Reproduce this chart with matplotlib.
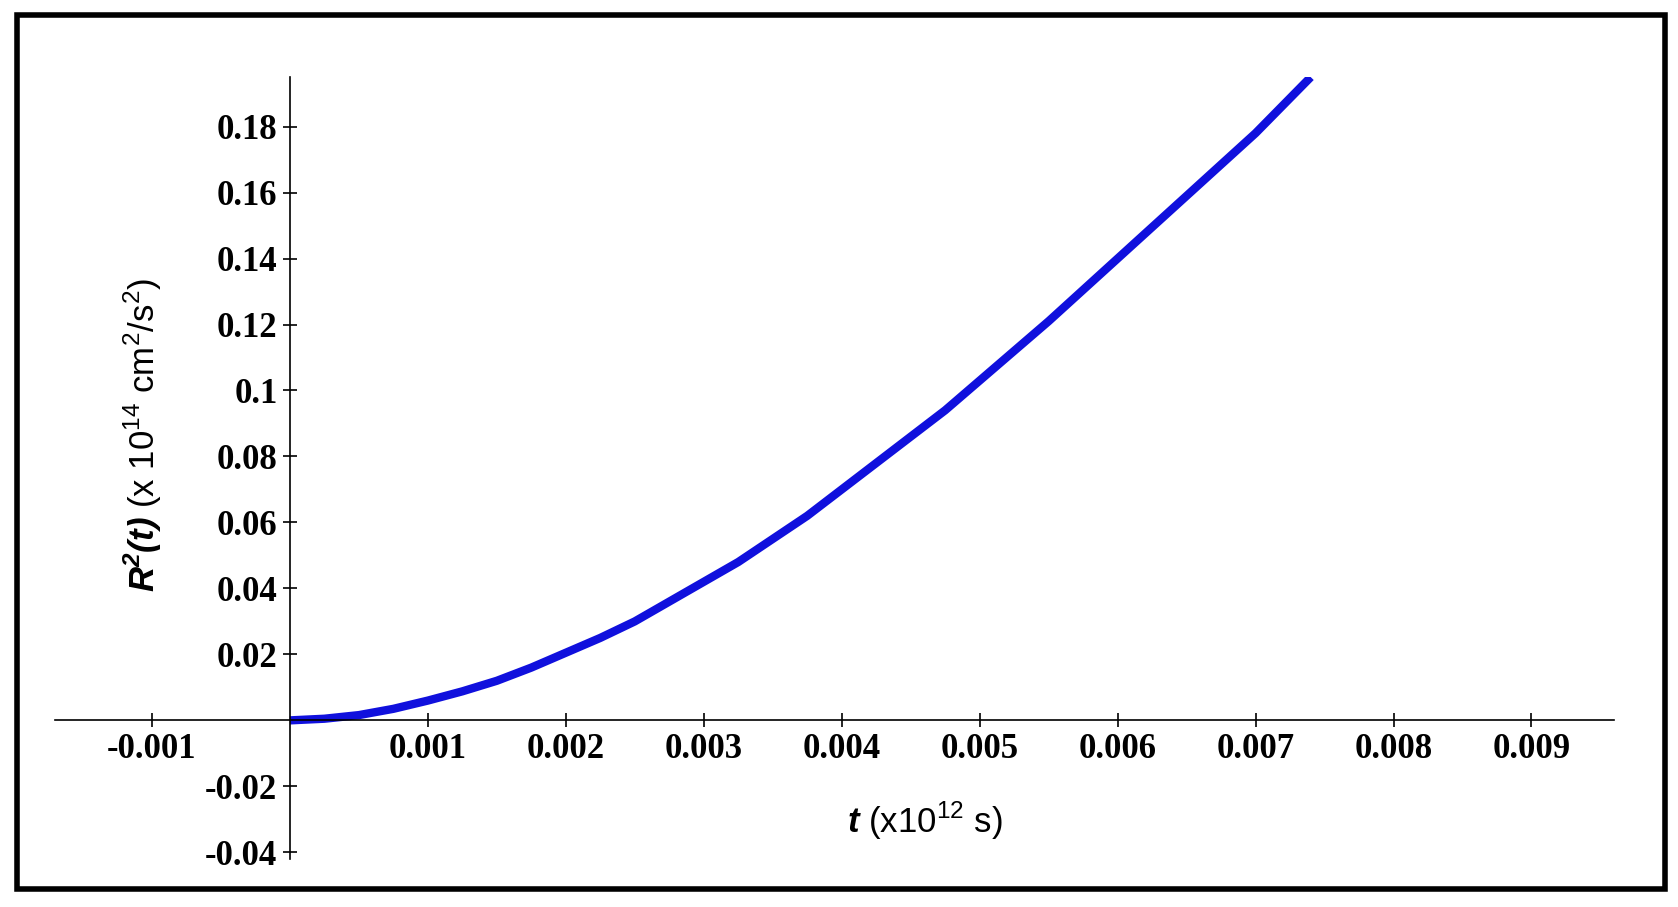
import matplotlib.pyplot as plt
from matplotlib.patches import Rectangle

plt.rcParams["mathtext.fontset"] = "custom"
plt.rcParams["mathtext.rm"] = "Liberation Sans"
plt.rcParams["mathtext.bf"] = "Liberation Sans:bold:italic"

# curve values
t = [0.0, 0.00025, 0.0005, 0.00075, 0.001, 0.00125, 0.0015, 0.00175, 0.002,
     0.00225, 0.0025, 0.00275, 0.003, 0.00325, 0.0035, 0.00375, 0.004,
     0.00425, 0.0045, 0.00475, 0.005, 0.00525, 0.0055, 0.00575, 0.006,
     0.00625, 0.0065, 0.00675, 0.007, 0.0072, 0.0074]
r2 = [0.0, 0.0005, 0.0016, 0.0035, 0.006, 0.0088, 0.012, 0.016, 0.0205,
      0.025, 0.030, 0.036, 0.042, 0.048, 0.055, 0.062, 0.070,
      0.078, 0.086, 0.094, 0.103, 0.112, 0.121, 0.1305, 0.140,
      0.1495, 0.159, 0.1685, 0.178, 0.1865, 0.195]

xticks = [-0.001, 0.001, 0.002, 0.003, 0.004, 0.005, 0.006, 0.007, 0.008, 0.009]
xlabels = ["-0.001", "0.001", "0.002", "0.003", "0.004", "0.005", "0.006",
           "0.007", "0.008", "0.009"]
yticks = [-0.04, -0.02, 0.02, 0.04, 0.06, 0.08, 0.1, 0.12, 0.14, 0.16, 0.18]
ylabels = ["-0.04", "-0.02", "0.02", "0.04", "0.06", "0.08", "0.1", "0.12",
           "0.14", "0.16", "0.18"]

fig = plt.figure(figsize=(16.78, 9.07), dpi=100)
fig.patches.append(Rectangle((0.01, 0.02), 0.982, 0.963, transform=fig.transFigure,
                             fill=False, edgecolor="black", linewidth=4))

ax = fig.add_axes([0.033, 0.053, 0.929, 0.862])
ax.plot(t, r2, color="#1010dd", linewidth=6, solid_capstyle="butt")
ax.set_xlim(-0.0017, 0.0096)
ax.set_ylim(-0.042, 0.195)

for s in ["top", "right"]:
    ax.spines[s].set_visible(False)
ax.spines["left"].set_position(("data", 0))
ax.spines["bottom"].set_position(("data", 0))
ax.spines["left"].set_linewidth(1.2)
ax.spines["bottom"].set_linewidth(1.2)

tfont = dict(family="Liberation Serif", weight="bold", size=25)
ax.set_xticks(xticks)
ax.set_xticklabels(xlabels, **tfont)
ax.set_yticks(yticks)
ax.set_yticklabels(ylabels, **tfont)
ax.tick_params(direction="inout", length=10, width=1.2, pad=4)

fig.text(0.085, 0.52, r"$\mathbf{R^2(t)}$ (x 10$^{14}$ cm$^2$/s$^2$)",
         rotation=90, ha="center", va="center", fontsize=25, family="Liberation Sans")
fig.text(0.551, 0.095, r"$\mathbf{t}$ (x10$^{12}$ s)", ha="center", va="center",
         fontsize=25, family="Liberation Sans")

fig.savefig("out.png", dpi=100)
